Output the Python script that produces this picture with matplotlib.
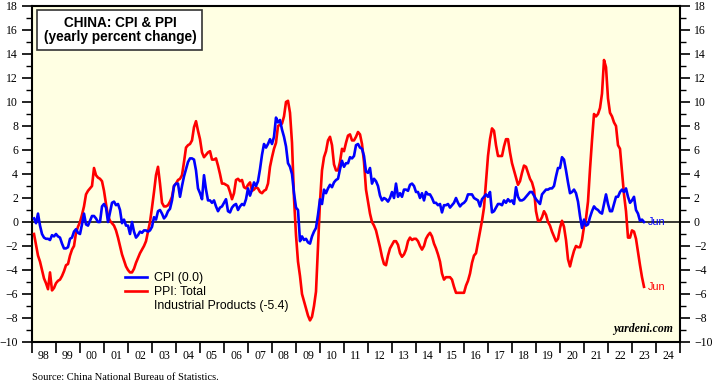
import numpy as np
import matplotlib
matplotlib.use('Agg')
import matplotlib.pyplot as plt
from matplotlib.lines import Line2D
from matplotlib.patches import Rectangle

# 月度数据：1998年1月 - 2023年6月 (yoy %)
start_year = 1998
cpi = [
    0.3, -0.1, 0.7, -0.3, -1.0, -1.3, -1.4, -1.4, -1.5, -1.1, -1.2, -1.0,   # 1998
    -1.2, -1.3, -1.8, -2.2, -2.2, -2.1, -1.4, -1.3, -0.8, -0.6, -0.9, -1.0,  # 1999
    -0.2, 0.7, -0.2, -0.3, 0.1, 0.5, 0.5, 0.3, 0.0, 0.0, 1.3, 1.5,          # 2000
    1.2, 0.0, 0.8, 1.6, 1.7, 1.4, 1.5, 1.0, -0.1, 0.2, -0.3, -0.3,          # 2001
    -1.0, 0.0, -0.8, -1.3, -1.1, -0.8, -0.9, -0.7, -0.7, -0.8, -0.7, -0.4,  # 2002
    0.4, 0.2, 0.9, 1.0, 0.7, 0.3, 0.5, 0.9, 1.1, 1.8, 3.0, 3.2,             # 2003
    3.2, 2.1, 3.0, 3.8, 4.4, 5.0, 5.3, 5.3, 5.2, 4.3, 2.8, 2.4,             # 2004
    1.9, 3.9, 2.7, 1.8, 1.8, 1.6, 1.8, 1.3, 0.9, 1.2, 1.3, 1.6,             # 2005
    1.9, 0.9, 0.8, 1.2, 1.4, 1.5, 1.0, 1.3, 1.5, 1.4, 1.9, 2.8,             # 2006
    2.2, 2.7, 3.3, 3.0, 3.4, 4.4, 5.6, 6.5, 6.2, 6.5, 6.9, 6.5,             # 2007
    7.1, 8.7, 8.3, 8.5, 7.7, 7.1, 6.3, 4.9, 4.6, 4.0, 2.4, 1.2,             # 2008
    1.0, -1.6, -1.2, -1.5, -1.4, -1.7, -1.8, -1.2, -0.8, -0.5, 0.6, 1.9,    # 2009
    1.5, 2.7, 2.4, 2.8, 3.1, 2.9, 3.3, 3.5, 3.6, 4.4, 5.1, 4.6,             # 2010
    4.9, 4.9, 5.4, 5.3, 5.5, 6.4, 6.5, 6.2, 6.1, 5.5, 4.2, 4.1,             # 2011
    4.5, 3.2, 3.6, 3.4, 3.0, 2.2, 1.8, 2.0, 1.9, 1.7, 2.0, 2.5,             # 2012
    2.0, 3.2, 2.1, 2.4, 2.1, 2.7, 2.7, 2.6, 3.1, 3.2, 3.0, 2.5,             # 2013
    2.5, 2.0, 2.4, 1.8, 2.5, 2.3, 2.3, 2.0, 1.6, 1.6, 1.4, 1.5,             # 2014
    0.8, 1.4, 1.4, 1.5, 1.2, 1.4, 1.6, 2.0, 1.6, 1.3, 1.5, 1.6,             # 2015
    1.8, 2.3, 2.3, 2.3, 2.0, 1.9, 1.8, 1.3, 1.9, 2.1, 2.3, 2.1,             # 2016
    2.5, 0.8, 0.9, 1.2, 1.5, 1.5, 1.4, 1.8, 1.6, 1.9, 1.7, 1.8,             # 2017
    1.5, 2.9, 2.1, 1.8, 1.8, 1.9, 2.1, 2.3, 2.5, 2.5, 2.2, 1.9,             # 2018
    1.7, 1.5, 2.3, 2.5, 2.7, 2.7, 2.8, 2.8, 3.0, 3.8, 4.5, 4.5,             # 2019
    5.4, 5.2, 4.3, 3.3, 2.4, 2.5, 2.7, 2.4, 1.7, 0.5, -0.5, 0.2,            # 2020
    -0.3, -0.2, 0.4, 0.9, 1.3, 1.1, 1.0, 0.8, 0.7, 1.5, 2.3, 1.5,           # 2021
    0.9, 0.9, 1.5, 2.1, 2.1, 2.5, 2.7, 2.5, 2.8, 2.1, 1.6, 1.8,             # 2022
    2.1, 1.0, 0.7, 0.1, 0.2, 0.0,                                           # 2023
]
ppi = [
    -1.0, -1.9, -2.8, -3.3, -4.0, -4.7, -5.1, -5.6, -4.2, -5.7, -5.5, -5.1,  # 1998
    -4.9, -4.8, -4.5, -4.1, -3.6, -3.5, -2.8, -2.3, -2.0, -0.9, -0.4, 0.0,   # 1999
    0.6, 1.3, 2.3, 2.6, 2.8, 3.0, 4.5, 3.9, 3.7, 3.6, 3.4, 2.6,             # 2000
    1.5, 0.5, 0.1, -0.1, -0.3, -0.7, -1.3, -2.0, -2.7, -3.2, -3.7, -4.0,    # 2001
    -4.2, -4.2, -3.9, -3.4, -3.0, -2.6, -2.3, -2.0, -1.6, -0.8, 0.0, 1.2,   # 2002
    2.5, 3.9, 4.6, 3.2, 1.6, 1.3, 1.3, 1.4, 1.7, 2.1, 3.0, 3.2,             # 2003
    3.5, 3.6, 3.9, 5.0, 6.2, 6.4, 6.5, 6.8, 7.9, 8.4, 7.6, 6.9,             # 2004
    5.8, 5.4, 5.6, 5.8, 5.9, 5.2, 5.2, 5.3, 4.7, 4.0, 3.2, 3.2,             # 2005
    3.1, 3.0, 2.5, 1.9, 2.4, 3.5, 3.6, 3.4, 3.5, 2.9, 2.8, 3.1,             # 2006
    3.3, 2.6, 2.7, 2.9, 2.8, 2.5, 2.4, 2.6, 2.7, 3.2, 4.6, 5.4,             # 2007
    6.1, 6.6, 8.0, 8.1, 8.2, 8.8, 10.0, 10.1, 9.1, 6.6, 2.0, -1.1,          # 2008
    -3.3, -4.5, -6.0, -6.6, -7.2, -7.8, -8.2, -7.9, -7.0, -5.8, -2.1, 1.7,  # 2009
    4.3, 5.4, 5.9, 6.8, 7.1, 6.4, 4.8, 4.3, 4.3, 5.0, 6.1, 5.9,             # 2010
    6.6, 7.2, 7.3, 6.8, 6.8, 7.1, 7.5, 7.3, 6.5, 5.0, 2.7, 1.7,             # 2011
    0.7, 0.0, -0.3, -0.7, -1.4, -2.1, -2.9, -3.5, -3.6, -2.8, -2.2, -1.9,   # 2012
    -1.6, -1.6, -1.9, -2.6, -2.9, -2.7, -2.3, -1.6, -1.3, -1.5, -1.4, -1.4, # 2013
    -1.6, -2.0, -2.3, -2.0, -1.4, -1.1, -0.9, -1.2, -1.8, -2.2, -2.7, -3.3, # 2014
    -4.3, -4.8, -4.6, -4.6, -4.6, -4.8, -5.4, -5.9, -5.9, -5.9, -5.9, -5.9, # 2015
    -5.3, -4.9, -4.3, -3.4, -2.8, -2.6, -1.7, -0.8, 0.1, 1.2, 3.3, 5.5,     # 2016
    6.9, 7.8, 7.6, 6.4, 5.5, 5.5, 5.5, 6.3, 6.9, 6.9, 5.8, 4.9,             # 2017
    4.3, 3.7, 3.1, 3.4, 4.1, 4.7, 4.6, 4.1, 3.6, 3.3, 2.7, 0.9,             # 2018
    0.1, 0.1, 0.4, 0.9, 0.6, 0.0, -0.3, -0.8, -1.2, -1.6, -1.4, -0.5,       # 2019
    0.1, -0.4, -1.5, -3.1, -3.7, -3.0, -2.4, -2.0, -2.1, -2.1, -1.5, -0.4,  # 2020
    0.3, 1.7, 4.4, 6.8, 9.0, 8.8, 9.0, 9.5, 10.7, 13.5, 12.9, 10.3,         # 2021
    9.1, 8.8, 8.3, 8.0, 6.4, 6.1, 4.2, 2.3, 0.9, -1.3, -1.3, -0.7,          # 2022
    -0.8, -1.4, -2.5, -3.6, -4.6, -5.4,                                     # 2023
]
year_labels = ['98', '99', '00', '01', '02', '03', '04', '05', '06', '07', '08',
               '09', '10', '11', '12', '13', '14', '15', '16', '17', '18', '19',
               '20', '21', '22', '23', '24']

t = start_year + (np.arange(len(cpi)) + 1) / 12.0

fig = plt.figure(figsize=(7.15, 3.89), dpi=100)
ax = fig.add_axes([32 / 715, 47 / 389, 648 / 715, 336 / 389])
ax.set_facecolor('#FFFFE3')

ax.axhline(0, color='black', lw=1.1, zorder=1)
ax.plot(t, ppi, color='#FF0000', lw=1.9, zorder=3)
ax.plot(t, cpi, color='#0000FF', lw=1.9, zorder=4)

ax.set_xlim(1998, 2025)
ax.set_ylim(-10, 18)

# x轴：年份刻度 + 居中的年份标签
ax.set_xticks(np.arange(1998, 2026))
ax.set_xticklabels([])
ax.set_xticks(np.arange(1998, 2025) + 0.5, minor=True)
ax.set_xticklabels(year_labels, minor=True, fontsize=8.5, family='Liberation Serif')
ax.tick_params(axis='x', which='major', direction='out', length=8, width=1.2)
ax.tick_params(axis='x', which='minor', length=0, pad=6)

# y轴：两侧都有刻度
ax.set_yticks(np.arange(-10, 19, 2))
ax.set_yticks(np.arange(-10, 19, 1), minor=True)
ax.tick_params(axis='y', which='major', direction='out', length=7, width=1.2,
               left=True, right=True, labelleft=True, labelright=True, pad=3)
ax.tick_params(axis='y', which='minor', direction='out', length=4, width=1.0,
               left=True, right=True)
for lab in ax.get_yticklabels():
    lab.set_fontfamily('Liberation Serif')
    lab.set_fontsize(8.5)
for sp in ax.spines.values():
    sp.set_linewidth(1.5)

# 标题框
fig.patches.append(Rectangle((37 / 715, 1 - 50 / 389), 165 / 715, 40 / 389,
                             transform=fig.transFigure, facecolor='white',
                             edgecolor='#333333', lw=1.2, zorder=5))
fig.text(120 / 715, 1 - 23 / 389, 'CHINA: CPI & PPI', ha='center', va='center',
         fontsize=9.8, fontweight='bold', family='Liberation Sans', zorder=6)
fig.text(120 / 715, 1 - 37 / 389, '(yearly percent change)', ha='center', va='center',
         fontsize=9.8, fontweight='bold', family='Liberation Sans', zorder=6)

# 图例
handles = [Line2D([], [], color='#0000FF', lw=1.9),
           Line2D([], [], color='#FF0000', lw=1.9),
           Line2D([], [], color='none')]
labels = ['CPI (0.0)', 'PPI: Total', 'Industrial Products (-5.4)']
ax.legend(handles, labels, loc='upper left', bbox_to_anchor=(93 / 648, (342 - 272) / 336),
          frameon=False, prop={'family': 'Liberation Sans', 'size': 8.8},
          handlelength=1.8, handletextpad=0.6, labelspacing=0.18, borderpad=0,
          borderaxespad=0)

# 末值标签
ax.annotate('Jun', xy=(t[-1], cpi[-1]), xytext=(3, 0), textcoords='offset points',
            color='#0000FF', fontsize=7.8, va='center', family='Liberation Sans')
ax.annotate('Jun', xy=(t[-1], ppi[-1]), xytext=(3, 0), textcoords='offset points',
            color='#FF0000', fontsize=7.8, va='center', family='Liberation Sans')

ax.text(0.989, 0.02, 'yardeni.com', transform=ax.transAxes, ha='right', va='bottom',
        fontsize=8.5, fontweight='bold', style='italic', family='Liberation Serif')
fig.text(32 / 715, 1 - 377 / 389, 'Source: China National Bureau of Statistics.',
         ha='left', va='center', fontsize=7.6, family='Liberation Serif')

fig.savefig('out.png', dpi=100)
